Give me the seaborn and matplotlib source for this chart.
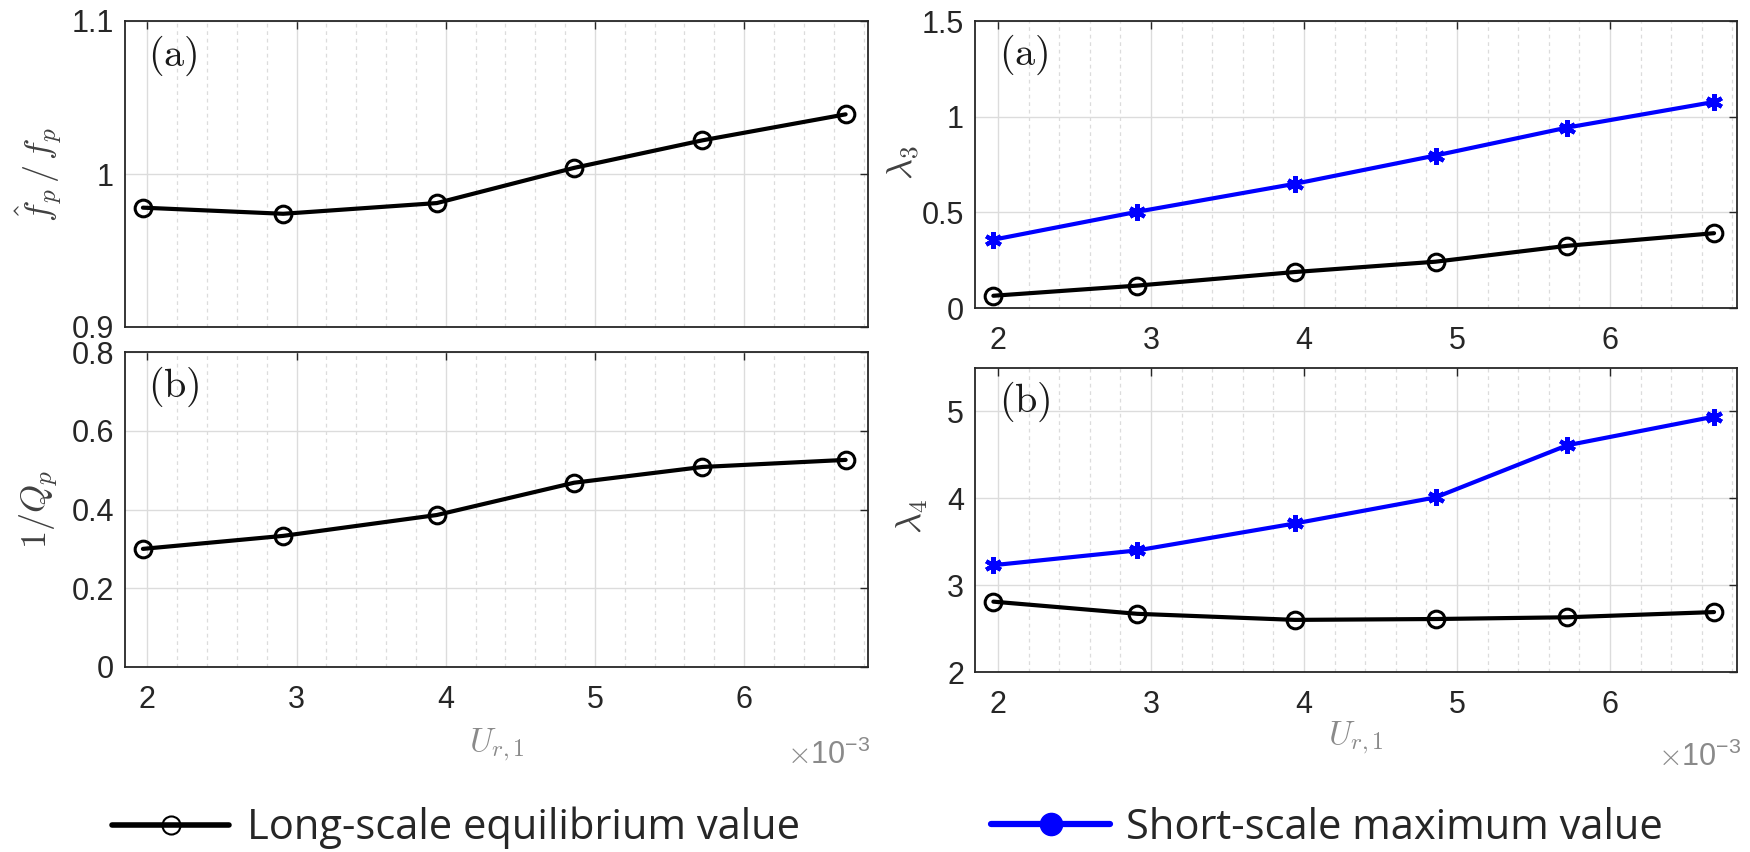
import numpy as np
import matplotlib
matplotlib.use("Agg")
import matplotlib.pyplot as plt
import seaborn as sns
from matplotlib.lines import Line2D
from matplotlib.ticker import MultipleLocator, FuncFormatter

# ---------------- data (x in units of 1e-3) ----------------
u_r1 = [1.97, 2.91, 3.94, 4.86, 5.72, 6.68]

fhat_ratio_long = [0.978, 0.974, 0.981, 1.004, 1.022, 1.039]
invQ_long = [0.300, 0.333, 0.386, 0.468, 0.508, 0.526]

lambda3_long = [0.064, 0.117, 0.188, 0.242, 0.325, 0.391]
lambda3_short = [0.357, 0.503, 0.649, 0.797, 0.943, 1.077]

lambda4_long = [2.81, 2.67, 2.60, 2.61, 2.63, 2.69]
lambda4_short = [3.23, 3.40, 3.71, 4.01, 4.61, 4.94]

xticks = [2, 3, 4, 5, 6]
legend_labels = ["Long-scale equilibrium value", "Short-scale maximum value"]

# ---------------- style ----------------
sns.set_theme(style="white")
plt.rcParams["font.family"] = ["Liberation Sans", "DejaVu Sans"]
plt.rcParams["mathtext.fontset"] = "cm"

W, H = 1750, 852
fig = plt.figure(figsize=(W / 100, H / 100), dpi=100)

def px_axes(left, right, top, bottom):
    return fig.add_axes([left / W, 1 - bottom / H, (right - left) / W, (bottom - top) / H])

ax_tl = px_axes(125, 868, 21, 327)
ax_bl = px_axes(125, 868, 352, 667)
ax_tr = px_axes(975, 1737, 21, 308)
ax_br = px_axes(975, 1737, 368, 672)

TICK_C = "#262626"
LABEL_C = "#404040"
XLAB_C = "#8a8a8a"

def style_axes(ax, ylim, ystep, show_xlabels=True):
    ax.set_xlim(1.85, 6.83)
    ax.set_ylim(*ylim)
    ax.set_xticks(xticks)
    ax.yaxis.set_major_locator(MultipleLocator(ystep))
    ax.xaxis.set_minor_locator(MultipleLocator(0.2))
    ax.grid(True, which="major", color="#dcdcdc", linewidth=1.0, linestyle="-")
    ax.grid(True, which="minor", axis="x", color="#dcdcdc", linewidth=0.9, linestyle=(0, (3, 3)))
    ax.set_axisbelow(True)
    ax.tick_params(which="major", direction="in", top=True, right=True, length=6,
                   width=1.0, color=TICK_C, labelsize=22, labelcolor=TICK_C)
    ax.tick_params(axis="x", pad=13)
    ax.tick_params(axis="y", pad=8)
    ax.tick_params(which="minor", length=0)
    if not show_xlabels:
        ax.tick_params(axis="x", labelbottom=False)
    for s in ax.spines.values():
        s.set_color(TICK_C)
        s.set_linewidth(1.3)
        s.set_visible(True)

def fmt_tick(v, pos):
    return f"{v:g}"

def long_line(ax, y):
    sns.lineplot(x=u_r1, y=y, ax=ax, color="black", linewidth=3.0, marker="o",
                 markersize=12, markerfacecolor="none", markeredgecolor="black",
                 markeredgewidth=2.2, sort=False, legend=False)

def short_line(ax, y):
    sns.lineplot(x=u_r1, y=y, ax=ax, color="#0000ff", linewidth=3.0, marker=(6, 2, 0),
                 markersize=12, markerfacecolor="#0000ff", markeredgecolor="#0000ff",
                 markeredgewidth=3.0, sort=False, legend=False)

long_line(ax_tl, fhat_ratio_long)
long_line(ax_bl, invQ_long)
long_line(ax_tr, lambda3_long)
short_line(ax_tr, lambda3_short)
long_line(ax_br, lambda4_long)
short_line(ax_br, lambda4_short)

style_axes(ax_tl, (0.9, 1.1), 0.1, show_xlabels=False)
style_axes(ax_bl, (0, 0.8), 0.2)
style_axes(ax_tr, (0, 1.5), 0.5)
style_axes(ax_br, (2, 5.5), 1)

for ax in (ax_tl, ax_bl, ax_tr, ax_br):
    ax.yaxis.set_major_formatter(FuncFormatter(fmt_tick))
    ax.xaxis.set_major_formatter(FuncFormatter(fmt_tick))
    ax.set_xlabel("")
    ax.set_ylabel("")

# y labels
fig.text(39 / W, 1 - 174 / H, r"$\hat{f}_p\,/\,f_p$", rotation=90, ha="center", va="center",
         fontsize=26, color=LABEL_C)
fig.text(39 / W, 1 - 509 / H, r"$1/Q_p$", rotation=90, ha="center", va="center",
         fontsize=26, color=LABEL_C)
fig.text(904 / W, 1 - 163 / H, r"$\lambda_3$", rotation=90, ha="center", va="center",
         fontsize=26, color=LABEL_C)
fig.text(912 / W, 1 - 517 / H, r"$\lambda_4$", rotation=90, ha="center", va="center",
         fontsize=26, color=LABEL_C)

# panel tags
for ax, tag in ((ax_tl, "(a)"), (ax_bl, "(b)"), (ax_tr, "(a)"), (ax_br, "(b)")):
    ax.text(0.031, 0.96, r"$\mathrm{" + tag + "}$", transform=ax.transAxes,
            ha="left", va="top", fontsize=29, color="#1a1a1a")

# x labels and exponent
fig.text(497 / W, 1 - 745 / H, r"$U_{r,1}$", ha="center", va="center", fontsize=24, color=XLAB_C)
fig.text(1356 / W, 1 - 738 / H, r"$U_{r,1}$", ha="center", va="center", fontsize=24, color=XLAB_C)
fig.text(870 / W, 1 - 755 / H, r"$\times\mathregular{10^{-3}}$", ha="right", va="center",
         fontsize=22, color=XLAB_C)
fig.text(1741 / W, 1 - 757 / H, r"$\times\mathregular{10^{-3}}$", ha="right", va="center",
         fontsize=22, color=XLAB_C)

# legends
h_long = Line2D([], [], color="black", linewidth=4, marker="o", markersize=13,
                markerfacecolor="none", markeredgecolor="black", markeredgewidth=1.5)
h_short = Line2D([], [], color="#0000ff", linewidth=4.5, marker="o", markersize=16,
                 markerfacecolor="#0000ff", markeredgecolor="#0000ff")
lfs = 30
fs_px = lfs * 100 / 72
fig.legend(handles=[h_long], labels=[legend_labels[0]], loc="center left",
           bbox_to_anchor=(112 / W, 1 - 828 / H), frameon=False,
           prop={"family": "Open Sans", "size": lfs},
           handlelength=117 / fs_px, handletextpad=18 / fs_px, borderpad=0, borderaxespad=0)
fig.legend(handles=[h_short], labels=[legend_labels[1]], loc="center left",
           bbox_to_anchor=(991 / W, 1 - 828 / H), frameon=False,
           prop={"family": "Open Sans", "size": lfs},
           handlelength=119 / fs_px, handletextpad=16 / fs_px, borderpad=0, borderaxespad=0)

fig.savefig("out.png", dpi=100, facecolor="white")
